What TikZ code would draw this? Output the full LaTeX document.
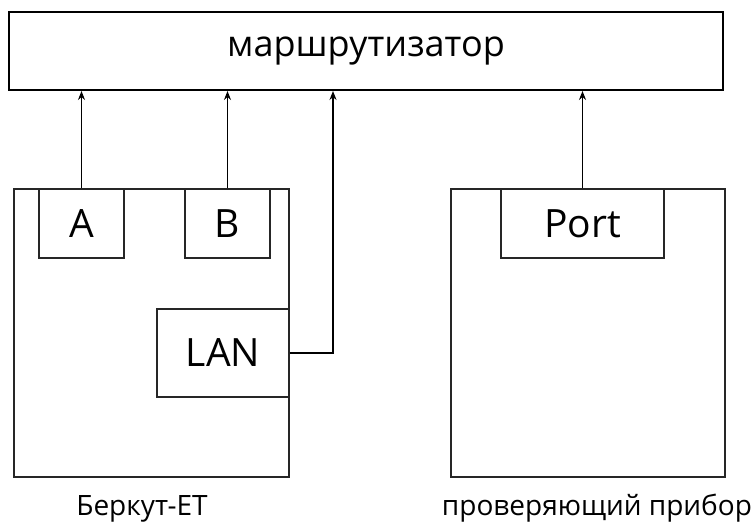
\documentclass[tikz,border=0pt]{standalone}
\usepackage{fontspec}
\setmainfont{Open Sans}
\usepackage{tikz}
\usetikzlibrary{arrows.meta,positioning,calc}

\begin{document}
\begin{tikzpicture}[
    x=1pt, y=-1pt,
    router/.style={rectangle, draw, line width=2pt, inner sep=0pt, minimum width=714pt, minimum height=78pt, font=\fontsize{36}{42}\selectfont},
    device/.style={rectangle, draw, line width=1.4pt, draw=black!85, inner sep=0pt, minimum height=288pt},
    port/.style={rectangle, draw, line width=1.4pt, draw=black!85, inner sep=0pt, minimum height=69pt, font=\fontsize{39}{46}\selectfont},
    caption/.style={anchor=base, inner sep=0pt, font=\fontsize{28}{33}\selectfont},
    link/.style={line width=1.4pt, -{Stealth[length=9pt,width=7pt]}}
]
    \useasboundingbox (0,0) rectangle (753,522);

    % Router
    \node[router] (rtr) at (366,51) {маршрутизатор};

    % Berkut-ET
    \node[device, minimum width=275pt] (berkut) at (151.5,333) {};
    \node[port, minimum width=85pt] (pa) at (81.5,223.5) {A};
    \node[port, minimum width=85pt] (pb) at (227.5,223.5) {B};
    \node[port, minimum width=132pt, minimum height=88pt] (lan) at (223,353) {LAN};
    \node[caption] (berkutlbl) at (142,515) {Беркут-ЕТ};

    % Tester
    \node[device, minimum width=274pt] (tester) at (588,333) {};
    \node[port, minimum width=163pt] (port) at (582.5,223.5) {Port};
    \node[caption] (testerlbl) at (597,515) {проверяющий прибор};

    % Links
    \coordinate (bend) at (333,353);
    \draw[link] (pa.north) -- (pa.north |- rtr.south);
    \draw[link] (pb.north) -- (pb.north |- rtr.south);
    \draw[link] (lan.east) -- (bend) -- (bend |- rtr.south);
    \draw[link] (port.north) -- (port.north |- rtr.south);
\end{tikzpicture}
\end{document}
